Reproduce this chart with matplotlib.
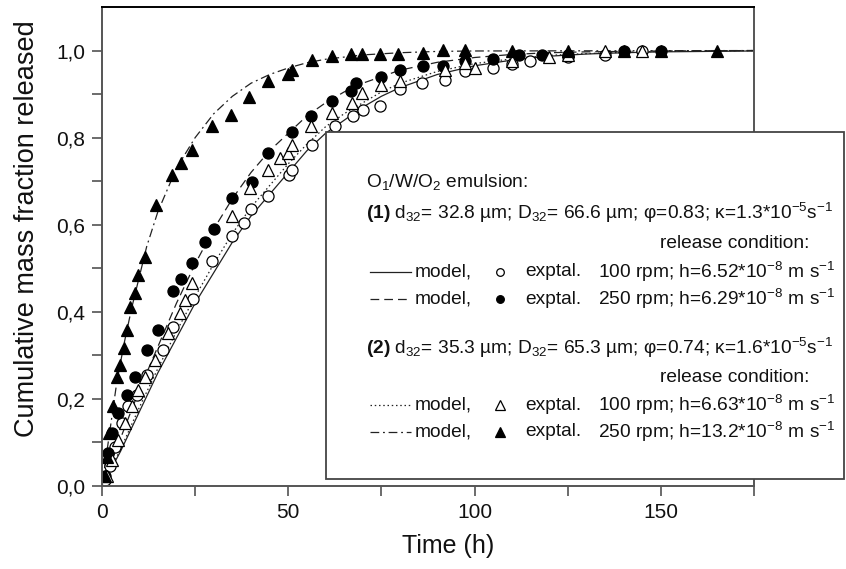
import numpy as np
import matplotlib
matplotlib.use("Agg")
import matplotlib.pyplot as plt
from matplotlib.lines import Line2D
from matplotlib.patches import Rectangle

plt.rcParams['font.family'] = ['Liberation Sans', 'DejaVu Sans']
plt.rcParams['mathtext.fontset'] = 'custom'
plt.rcParams['mathtext.rm'] = 'Liberation Sans'
plt.rcParams['mathtext.it'] = 'Liberation Sans:italic'
plt.rcParams['mathtext.bf'] = 'Liberation Sans:bold'

# ---------------------------------------------------------------
# experimental points, read off the figure
# (1) 100 rpm, open circles
t_o = [0.8, 2.1, 3.5, 5.3, 7.1, 9.3, 12.0, 16.5, 19.1, 24.5, 29.4, 35.0, 38.0, 40.0,
       44.6, 50.2, 51.1, 56.3, 62.5, 67.4, 70.1, 74.6, 80.0, 86.0, 92.0, 97.4,
       105.0, 110.0, 115.0, 125.0, 135.0, 145.0]
f_o = [0.014, 0.045, 0.090, 0.144, 0.183, 0.209, 0.255, 0.313, 0.366, 0.43, 0.516, 0.573,
       0.605, 0.636, 0.665, 0.715, 0.726, 0.784, 0.827, 0.849, 0.864, 0.872, 0.912,
       0.925, 0.933, 0.952, 0.96, 0.97, 0.975, 0.985, 0.99, 1.0]

# (1) 250 rpm, filled circles
t_fo = [0.8, 1.7, 2.6, 4.4, 6.6, 8.9, 12.0, 14.9, 19.0, 21.2, 24.1, 27.6, 30.1, 34.8,
        40.2, 44.6, 51.1, 56.1, 61.8, 66.8, 68.1, 74.9, 80.0, 86.2, 91.6, 97.4,
        105.0, 112.0, 118.0, 125.0, 140.0, 150.0]
f_fo = [0.022, 0.075, 0.121, 0.167, 0.209, 0.251, 0.313, 0.359, 0.448, 0.475, 0.512,
        0.561, 0.590, 0.661, 0.699, 0.764, 0.812, 0.849, 0.883, 0.906, 0.925, 0.939,
        0.956, 0.964, 0.965, 0.975, 0.98, 0.99, 0.99, 0.99, 1.0, 1.0]

# (2) 100 rpm, open triangles
t_t = [1.3, 2.6, 4.4, 6.2, 8.0, 9.7, 11.5, 14.2, 17.8, 20.9, 22.3, 24.1, 34.8, 39.7,
       44.6, 47.8, 49.8, 51.1, 56.1, 61.8, 67.0, 69.7, 74.9, 80.0, 92.0, 97.4,
       100.0, 110.0, 120.0, 125.0, 135.0, 145.0]
f_t = [0.022, 0.060, 0.106, 0.144, 0.183, 0.221, 0.251, 0.290, 0.351, 0.397, 0.428,
       0.466, 0.619, 0.684, 0.726, 0.753, 0.764, 0.784, 0.826, 0.856, 0.879, 0.902,
       0.922, 0.929, 0.956, 0.971, 0.96, 0.975, 0.985, 0.99, 1.0, 1.0]

# (2) 250 rpm, filled triangles
t_ft = [0.8, 1.25, 1.9, 3.0, 3.9, 4.8, 6.0, 6.6, 7.5, 8.9, 9.7, 11.5, 14.5, 18.9,
        21.2, 24.1, 29.4, 34.6, 39.4, 44.6, 49.8, 51.1, 56.3, 61.8, 66.8, 69.7,
        74.6, 79.5, 86.2, 91.6, 97.4, 110.0, 125.0, 140.0, 150.0, 165.0]
f_ft = [0.022, 0.067, 0.121, 0.183, 0.251, 0.278, 0.317, 0.359, 0.412, 0.444, 0.485,
        0.527, 0.646, 0.715, 0.742, 0.771, 0.826, 0.853, 0.893, 0.931, 0.945, 0.956,
        0.979, 0.987, 0.991, 0.991, 0.991, 0.991, 0.994, 1.002, 1.002, 1.0, 1.0,
        1.0, 1.0, 1.0]

# model curves
tm_1a = [0, 5, 10, 15, 20, 25, 30, 35, 40, 45, 50, 55, 60, 65, 70, 75, 80, 90,
         100, 110, 120, 130, 140, 150, 175]
fm_1a = [0, 0.08, 0.17, 0.26, 0.34, 0.42, 0.49, 0.56, 0.62, 0.67, 0.72, 0.77, 0.81,
         0.84, 0.87, 0.895, 0.915, 0.945, 0.965, 0.978, 0.987, 0.992, 0.995, 0.997, 0.999]

tm_1b = [0, 5, 10, 15, 20, 25, 30, 35, 40, 45, 50, 55, 60, 65, 70, 75, 80, 90,
         100, 110, 120, 130, 150, 175]
fm_1b = [0, 0.11, 0.22, 0.32, 0.42, 0.51, 0.59, 0.66, 0.72, 0.77, 0.81, 0.85, 0.88,
         0.905, 0.925, 0.94, 0.955, 0.973, 0.984, 0.991, 0.995, 0.997, 0.999, 1.0]

tm_2a = [0, 5, 10, 15, 20, 25, 30, 35, 40, 45, 50, 55, 60, 65, 70, 75, 80, 90,
         100, 110, 120, 130, 140, 150, 175]
fm_2a = [0, 0.085, 0.18, 0.27, 0.355, 0.435, 0.51, 0.58, 0.64, 0.69, 0.74, 0.785,
         0.825, 0.855, 0.88, 0.905, 0.925, 0.952, 0.97, 0.981, 0.989, 0.993, 0.996,
         0.998, 1.0]

tm_2b = [0, 2, 4, 6, 8, 10, 12, 15, 20, 25, 30, 35, 40, 45, 50, 55, 60, 70, 80, 90,
         100, 175]
fm_2b = [0, 0.12, 0.24, 0.33, 0.41, 0.48, 0.55, 0.63, 0.73, 0.80, 0.855, 0.895,
         0.925, 0.945, 0.96, 0.972, 0.98, 0.99, 0.995, 0.998, 0.999, 1.0]

# ---------------------------------------------------------------
W, H = 846, 569
def fx(px):
    return px / W
def fy(py):
    return 1 - py / H

fig = plt.figure(figsize=(W / 100, H / 100), dpi=100)
ax = fig.add_axes([fx(102), fy(486), (754 - 102) / W, (486 - 7) / H])

lc = '#222222'
ls_dash = (0, (7, 4))
ls_dot = (0, (1.2, 2.2))
ls_dd = (0, (7, 3, 1.5, 3))

ax.plot(tm_1a, fm_1a, color=lc, lw=0.9, ls='-')
ax.plot(tm_1b, fm_1b, color=lc, lw=0.9, ls=ls_dash)
ax.plot(tm_2a, fm_2a, color=lc, lw=0.9, ls=ls_dot)
ax.plot(tm_2b, fm_2b, color=lc, lw=0.9, ls=ls_dd)

ms_c, ms_t = 8, 8.5
ax.plot(t_o, f_o, 'o', ms=ms_c, mfc='white', mec='black', mew=0.9)
ax.plot(t_fo, f_fo, 'o', ms=ms_c, mfc='black', mec='black', mew=0.9)
ax.plot(t_t, f_t, '^', ms=ms_t, mfc='white', mec='black', mew=0.9)
ax.plot(t_ft, f_ft, '^', ms=ms_t, mfc='black', mec='black', mew=0.9)

ax.set_xlim(0, 175)
ax.set_ylim(0, 1.1)
ax.set_xticks([0, 50, 100, 150])
ax.set_xticks([25, 75, 125, 175], minor=True)
yt = [0, 0.2, 0.4, 0.6, 0.8, 1.0]
ax.set_yticks(yt)
ax.set_yticklabels([f"{v:.1f}".replace('.', ',') for v in yt])
ax.set_yticks([0.1, 0.3, 0.5, 0.7, 0.9], minor=True)
ax.tick_params(which='both', direction='out', length=7, width=1.1, color='#444444',
               labelsize=15, labelcolor='#111111', pad=5)
for s in ax.spines.values():
    s.set_color('#555555')
    s.set_linewidth(1.4)
ax.spines['top'].set_color('black')

ax.set_xlabel('Time (h)', fontsize=18, color='#111111')
ax.set_ylabel('Cumulative mass fraction released', fontsize=19.5, color='#111111')
ax.xaxis.set_label_coords(0.531, -0.1)
ax.yaxis.set_label_coords(-0.095, 0.537)

# ---------------------------------------------------------------
# legend box, drawn in figure coordinates (it sticks out of the axes)
fig.add_artist(Rectangle((fx(326), fy(479)), (844 - 326) / W, (479 - 132) / H,
                         transform=fig.transFigure, facecolor='white',
                         edgecolor='#444444', lw=1.3, zorder=10))

fs = 13.8
tc = '#111111'
def ftext(px, py, s, ha='left', **kw):
    fig.text(fx(px), fy(py), s, ha=ha, va='center', fontsize=fs, color=tc,
             zorder=11, **kw)

ftext(366, 182, r'O$_1$/W/O$_2$ emulsion:')
ftext(366, 213, r'$\bf{(1)}$ d$_{32}$= 32.8 µm; D$_{32}$= 66.6 µm; φ=0.83; κ=1.3*10$^{-5}$s$^{-1}$')
ftext(809, 244, 'release condition:', ha='right')
ftext(366, 348, r'$\bf{(2)}$ d$_{32}$= 35.3 µm; D$_{32}$= 65.3 µm; φ=0.74; κ=1.6*10$^{-5}$s$^{-1}$')
ftext(809, 377, 'release condition:', ha='right')

rows = [
    (272, '-', 'o', 'white', r'100 rpm; h=6.52*10$^{-8}$ m s$^{-1}$'),
    (299, ls_dash, 'o', 'black', r'250 rpm; h=6.29*10$^{-8}$ m s$^{-1}$'),
    (405, ls_dot, '^', 'white', r'100 rpm; h=6.63*10$^{-8}$ m s$^{-1}$'),
    (432, ls_dd, '^', 'black', r'250 rpm; h=13.2*10$^{-8}$ m s$^{-1}$'),
]
for py, ls, mk, face, lab in rows:
    fig.add_artist(Line2D([fx(370), fx(411)], [fy(py), fy(py)], transform=fig.transFigure,
                          color=lc, lw=0.9, ls=ls, zorder=11))
    fig.add_artist(Line2D([fx(500)], [fy(py)], transform=fig.transFigure, marker=mk,
                          ms=(5.5 if mk == 'o' else 6.5), mfc=face, mec='black', mew=0.9,
                          ls='none', zorder=11))
    ftext(415, py, 'model,')
    ftext(525, py, 'exptal.')
    ftext(835, py, lab, ha='right')

fig.savefig('out.png', dpi=100)
